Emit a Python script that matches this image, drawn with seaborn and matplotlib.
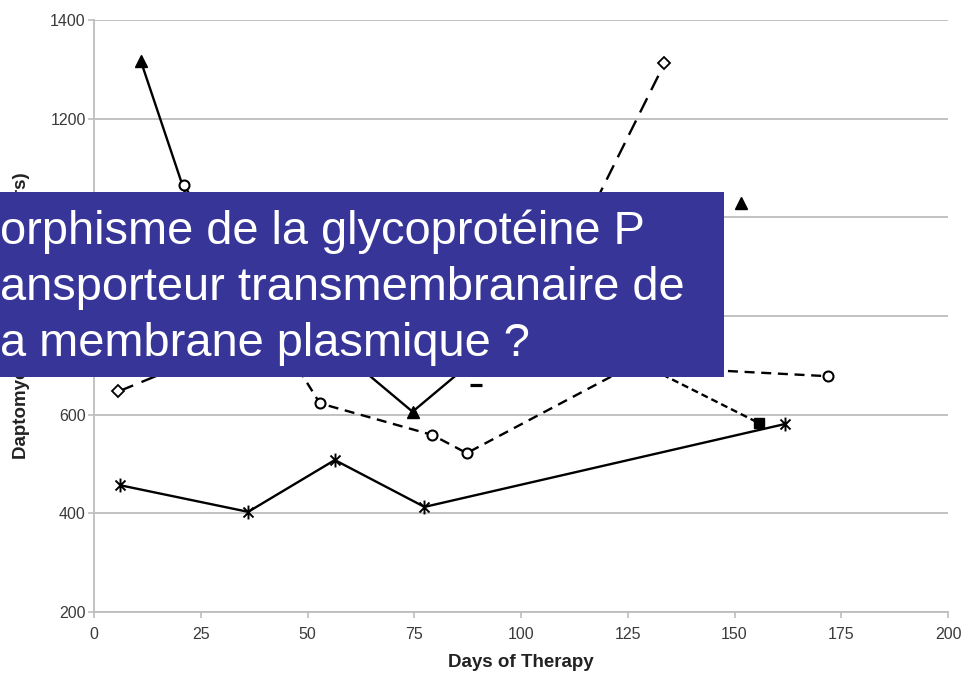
import matplotlib
matplotlib.use("Agg")
import matplotlib.pyplot as plt
from matplotlib.patches import Rectangle
from matplotlib.path import Path
import pandas as pd
import seaborn as sns

# Daptomycin dose (mg) against days of therapy, one series per patient.
# A "seg" id splits a series where the dosing record has a gap.
tri_days = [11, 24.4, 74.6, 100, 151.5]
tri_dose = [1316, 970, 606, 790, 1030]
tri_seg = [0, 0, 0, 0, 1]

circ_days = [21, 52.9, 79.2, 87.3, 130, 145, 171.8]
circ_dose = [1066, 623, 559, 522, 718, 690, 678]

diam_days = [5.7, 30, 106, 133.6]
diam_dose = [647, 733, 832, 1312]

sq_days = [40, 75, 130.2, 155.7]
sq_dose = [1000, 900, 694, 583]

star_days = [6.1, 36.1, 56.4, 77.4, 161.8]
star_dose = [457, 403, 508, 413, 581]

dash_days = [89.5]
dash_dose = [660]

x_ticks = [0, 25, 50, 75, 100, 125, 150, 175, 200]
y_ticks = [200, 400, 600, 800, 1000, 1200, 1400]

banner_lines = [
    "orphisme de la glycoprotéine P",
    "ansporteur transmembranaire de",
    "a membrane plasmique ?",
]

sns.set_style("white")
plt.rcParams["font.family"] = ["Liberation Sans", "DejaVu Sans"]
plt.rcParams["lines.scale_dashes"] = False

fig = plt.figure(figsize=(9.68, 6.73), dpi=100)
ax = fig.add_axes([94 / 968, 1 - 612 / 673, 854 / 968, 592 / 673])

# asterisk marker: vertical bar crossed by two diagonals
star_marker = Path(
    [(0, -1), (0, 1), (-0.72, -0.72), (0.72, 0.72), (-0.72, 0.72), (0.72, -0.72)],
    [Path.MOVETO, Path.LINETO, Path.MOVETO, Path.LINETO, Path.MOVETO, Path.LINETO],
)

series = [
    (tri_days, tri_dose, tri_seg,
     dict(marker="^", ms=8.5, mfc="black", mec="black", mew=1.0, ls="-")),
    (circ_days, circ_dose, None,
     dict(marker="o", ms=7.2, mfc="white", mec="black", mew=1.5, ls=(0, (7.2, 4.8)))),
    (diam_days, diam_dose, None,
     dict(marker="D", ms=6.2, mfc="white", mec="black", mew=1.3, ls=(0, (11.5, 6.5)))),
    (sq_days, sq_dose, None,
     dict(marker="s", ms=7.2, mfc="black", mec="black", mew=1.0, ls=(0, (5.0, 2.9)))),
    (star_days, star_dose, None,
     dict(marker=star_marker, ms=10, mfc="none", mec="black", mew=1.4, ls="-")),
    (dash_days, dash_dose, None,
     dict(marker="_", ms=8, mfc="black", mec="black", mew=2.3, ls="-")),
]

for days, dose, seg, style in series:
    df = pd.DataFrame({"day": days, "dose": dose,
                       "seg": seg if seg is not None else [0] * len(days)})
    sns.lineplot(data=df, x="day", y="dose", units="seg", ax=ax, color="black",
                 lw=1.7, estimator=None, sort=False, errorbar=None, zorder=3, **style)

grid_c = "#bdbdbd"
ax.set_xlim(0, 200)
ax.set_ylim(200, 1400)
ax.set_xticks(x_ticks)
ax.set_yticks(y_ticks)
ax.set_axisbelow(True)
ax.grid(axis="y", color=grid_c, lw=1.3)
ax.grid(axis="x", visible=False)
for side in ("top", "right"):
    ax.spines[side].set_visible(False)
for side in ("left", "bottom"):
    ax.spines[side].set_color(grid_c)
    ax.spines[side].set_linewidth(1.3)
ax.tick_params(axis="both", which="major", color=grid_c, width=1.2, length=4.5,
               labelsize=11.5, labelcolor="#3a3a3a", direction="out")
ax.tick_params(axis="y", pad=1.5, left=True)
ax.tick_params(axis="x", pad=6, bottom=True)

ax.set_xlabel("Days of Therapy", fontsize=13.5, fontweight="bold", color="#222222", labelpad=9)
ax.set_ylabel("Daptomycin Dose (mg/24 hours)", fontsize=13.5, fontweight="bold", color="#222222")
ax.yaxis.set_label_coords(-0.075, 0.5)

# banner laid over the chart
fig.add_artist(Rectangle((0, 1 - 377 / 673), 724 / 968, 185 / 673,
                         transform=fig.transFigure, facecolor="#373698",
                         edgecolor="none", zorder=5))
for i, line in enumerate(banner_lines):
    fig.text(0.0, 1 - (244 + 56 * i) / 673, line, color="white", fontsize=33.8,
             ha="left", va="baseline", zorder=6)

fig.savefig("out.png", dpi=100)
